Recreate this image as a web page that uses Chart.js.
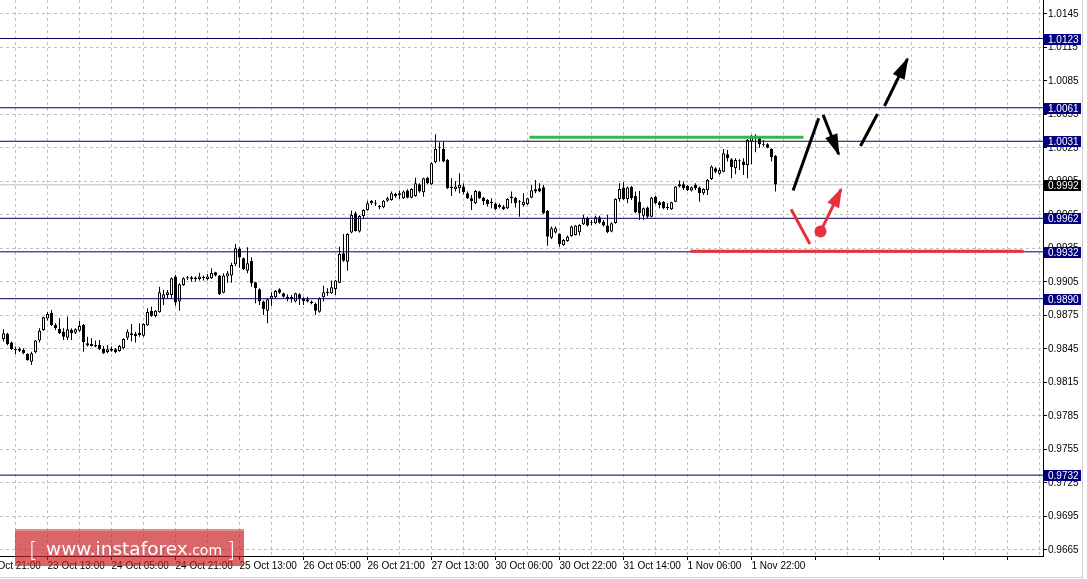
<!DOCTYPE html>
<html><head><meta charset="utf-8">
<script src="https://cdn.jsdelivr.net/npm/chart.js@4.4.0/dist/chart.umd.min.js"></script>
<style>html,body{margin:0;padding:0;background:#fff;overflow:hidden}canvas{display:block}</style>
</head><body>
<canvas id="c" width="1087" height="579"></canvas>
<script>
// ---- H1 candles, bar 0 = 23 Oct 02:00 ----
const open = [0.98536,0.98584,0.98507,0.98450,0.98453,0.98441,0.98405,0.98336,0.98420,0.98525,
0.98620,0.98722,0.98775,0.98665,0.98629,0.98605,0.98551,0.98620,0.98596,0.98614,
0.98665,0.98501,0.98495,0.98486,0.98486,0.98450,0.98423,0.98453,0.98447,0.98432,
0.98456,0.98551,0.98590,0.98566,0.98596,0.98569,0.98662,0.98790,0.98745,0.98778,
0.98901,0.98933,0.98933,0.99098,0.98874,0.99023,0.99092,0.99077,0.99089,0.99077,
0.99092,0.99077,0.99083,0.99136,0.99107,0.98954,0.99098,0.99107,0.99208,0.99345,
0.99262,0.99151,0.99238,0.99047,0.98984,0.98874,0.98793,0.98900,0.98912,0.98984,
0.98948,0.98918,0.98918,0.98874,0.98939,0.98903,0.98895,0.98874,0.98853,0.98784,
0.98912,0.98957,0.98948,0.98987,0.99044,0.99307,0.99232,0.99492,0.99665,0.99501,
0.99641,0.99695,0.99754,0.99757,0.99730,0.99718,0.99778,0.99784,0.99838,0.99844,
0.99799,0.99868,0.99805,0.99820,0.99925,0.99853,0.99984,0.99925,1.00122,1.00253,
1.00241,1.00143,0.99904,0.99880,0.99889,0.99904,0.99844,0.99799,0.99755,0.99859,
0.99805,0.99784,0.99769,0.99752,0.99719,0.99725,0.99710,0.99814,0.99805,0.99769,
0.99740,0.99749,0.99805,0.99880,0.99889,0.99898,0.99686,0.99447,0.99492,0.99480,
0.99381,0.99417,0.99462,0.99471,0.99495,0.99566,0.99626,0.99578,0.99575,0.99629,
0.99590,0.99555,0.99501,0.99578,0.99793,0.99895,0.99793,0.99901,0.99823,0.99769,
0.99644,0.99716,0.99635,0.99814,0.99763,0.99769,0.99719,0.99701,0.99769,0.99925,
0.99925,0.99910,0.99868,0.99919,0.99895,0.99844,0.99874,0.99972,1.00068,1.00020,
1.00038,1.00193,1.00149,1.00068,1.00137,1.00128,1.00098,1.00307,1.00351,1.00337,
1.00280,1.00283,1.00241,1.00178];
const high = [0.98626,0.98596,0.98516,0.98471,0.98465,0.98456,0.98411,0.98426,0.98530,0.98635,
0.98739,0.98784,0.98799,0.98680,0.98724,0.98635,0.98739,0.98635,0.98635,0.98701,
0.98674,0.98560,0.98545,0.98525,0.98530,0.98477,0.98483,0.98471,0.98456,0.98486,
0.98545,0.98626,0.98674,0.98605,0.98680,0.98680,0.98814,0.98829,0.98799,0.99008,
0.98978,0.98978,0.99089,0.99113,0.99038,0.99092,0.99104,0.99104,0.99098,0.99133,
0.99107,0.99121,0.99172,0.99142,0.99113,0.99127,0.99148,0.99223,0.99390,0.99360,
0.99268,0.99360,0.99271,0.99053,0.98993,0.98883,0.98903,0.98957,0.98978,0.98993,
0.98954,0.98939,0.98933,0.98954,0.98948,0.98912,0.98918,0.98883,0.98865,0.98912,
0.99017,0.98993,0.99062,0.99068,0.99366,0.99480,0.99486,0.99689,0.99680,0.99650,
0.99701,0.99778,0.99784,0.99784,0.99739,0.99784,0.99814,0.99859,0.99850,0.99868,
0.99868,0.99880,0.99889,0.99984,0.99934,0.99984,0.99993,1.00122,1.00372,1.00301,
1.00307,1.00152,0.99978,0.99955,1.00023,0.99934,0.99859,0.99829,0.99874,0.99865,
0.99814,0.99793,0.99799,0.99763,0.99752,0.99740,0.99799,0.99859,0.99814,0.99784,
0.99844,0.99805,0.99919,0.99963,0.99934,0.99919,0.99695,0.99546,0.99546,0.99486,
0.99435,0.99465,0.99555,0.99561,0.99566,0.99650,0.99635,0.99605,0.99644,0.99644,
0.99605,0.99650,0.99584,0.99799,0.99934,0.99943,0.99904,0.99910,0.99859,0.99865,
0.99716,0.99725,0.99814,0.99823,0.99775,0.99775,0.99755,0.99769,0.99910,0.99958,
0.99949,0.99919,0.99904,0.99934,0.99904,0.99889,0.99972,1.00092,1.00077,1.00074,
1.00241,1.00232,1.00158,1.00158,1.00149,1.00158,1.00331,1.00366,1.00372,1.00351,
1.00322,1.00292,1.00247,1.00187];
const low = [0.98516,0.98483,0.98441,0.98405,0.98423,0.98402,0.98345,0.98307,0.98411,0.98507,
0.98614,0.98704,0.98656,0.98620,0.98584,0.98530,0.98530,0.98530,0.98584,0.98605,
0.98426,0.98471,0.98471,0.98465,0.98441,0.98405,0.98411,0.98426,0.98411,0.98426,
0.98447,0.98530,0.98516,0.98507,0.98560,0.98560,0.98656,0.98739,0.98733,0.98775,
0.98844,0.98904,0.98904,0.98838,0.98793,0.99017,0.99068,0.99053,0.99053,0.99062,
0.99062,0.99062,0.99077,0.99098,0.98933,0.98948,0.99044,0.99044,0.99193,0.99178,
0.99157,0.99127,0.99008,0.98859,0.98844,0.98754,0.98680,0.98838,0.98903,0.98942,
0.98909,0.98874,0.98865,0.98865,0.98844,0.98844,0.98865,0.98850,0.98754,0.98775,
0.98874,0.98927,0.98942,0.98933,0.99038,0.99232,0.99151,0.99486,0.99501,0.99492,
0.99611,0.99689,0.99739,0.99730,0.99701,0.99710,0.99769,0.99778,0.99805,0.99793,
0.99793,0.99799,0.99799,0.99814,0.99850,0.99814,0.99925,0.99919,1.00113,1.00128,
1.00122,0.99883,0.99820,0.99859,0.99844,0.99835,0.99793,0.99695,0.99746,0.99793,
0.99740,0.99725,0.99710,0.99695,0.99710,0.99695,0.99704,0.99755,0.99716,0.99635,
0.99725,0.99740,0.99799,0.99844,0.99853,0.99656,0.99375,0.99435,0.99483,0.99366,
0.99375,0.99411,0.99456,0.99465,0.99465,0.99561,0.99546,0.99555,0.99566,0.99572,
0.99546,0.99486,0.99495,0.99572,0.99769,0.99784,0.99755,0.99784,0.99665,0.99605,
0.99605,0.99620,0.99629,0.99746,0.99710,0.99701,0.99695,0.99695,0.99763,0.99895,
0.99874,0.99865,0.99859,0.99874,0.99769,0.99829,0.99829,0.99963,1.00023,1.00008,
1.00032,1.00128,0.99978,1.00014,1.00053,1.00008,0.99978,1.00104,1.00211,1.00253,
1.00262,1.00247,1.00128,0.99859];
const close = [0.98590,0.98492,0.98450,0.98441,0.98435,0.98411,0.98351,0.98411,0.98525,0.98614,
0.98733,0.98763,0.98665,0.98635,0.98590,0.98560,0.98626,0.98590,0.98626,0.98656,
0.98510,0.98480,0.98477,0.98471,0.98450,0.98411,0.98447,0.98435,0.98420,0.98477,
0.98539,0.98605,0.98575,0.98584,0.98575,0.98674,0.98781,0.98745,0.98793,0.98957,
0.98939,0.98957,0.99083,0.98865,0.99029,0.99083,0.99083,0.99092,0.99074,0.99098,
0.99086,0.99098,0.99130,0.99107,0.98942,0.99107,0.99127,0.99202,0.99351,0.99268,
0.99163,0.99217,0.99038,0.98993,0.98874,0.98808,0.98895,0.98927,0.98969,0.98954,
0.98918,0.98895,0.98897,0.98948,0.98903,0.98880,0.98874,0.98859,0.98793,0.98903,
0.98957,0.98951,0.99002,0.99062,0.99301,0.99241,0.99480,0.99650,0.99507,0.99641,
0.99695,0.99754,0.99775,0.99751,0.99718,0.99778,0.99799,0.99844,0.99820,0.99829,
0.99859,0.99805,0.99883,0.99934,0.99859,0.99978,0.99934,1.00113,1.00241,1.00256,
1.00128,0.99889,0.99889,0.99904,0.99919,0.99853,0.99799,0.99775,0.99865,0.99799,
0.99775,0.99746,0.99755,0.99704,0.99740,0.99704,0.99793,0.99799,0.99755,0.99763,
0.99769,0.99799,0.99871,0.99859,0.99859,0.99665,0.99456,0.99531,0.99531,0.99390,
0.99426,0.99456,0.99546,0.99555,0.99561,0.99626,0.99555,0.99575,0.99629,0.99581,
0.99555,0.99495,0.99575,0.99793,0.99883,0.99793,0.99895,0.99799,0.99674,0.99665,
0.99710,0.99635,0.99805,0.99755,0.99740,0.99710,0.99713,0.99763,0.99904,0.99904,
0.99889,0.99874,0.99898,0.99889,0.99844,0.99883,0.99963,1.00083,1.00038,1.00053,
1.00202,1.00158,1.00077,1.00143,1.00131,1.00098,1.00322,1.00360,1.00337,1.00283,
1.00274,1.00253,1.00166,0.99922];

// ---- axes ----
const xTickLabels = ['22 Oct 21:00','23 Oct 13:00','24 Oct 05:00','24 Oct 21:00','25 Oct 13:00',
  '26 Oct 05:00','26 Oct 21:00','27 Oct 13:00','30 Oct 06:00','30 Oct 22:00','31 Oct 14:00',
  '1 Nov 06:00','1 Nov 22:00'];
const xLabelFirstBar = -5;   // bar index of the first time label
const xLabelStep = 16;       // bars between labels
const xGridStep = 8;         // bars between grid lines
const yTicks = [1.0145,1.0115,1.0085,1.0055,1.0025,0.9995,0.9965,0.9935,0.9905,0.9875,
  0.9845,0.9815,0.9785,0.9755,0.9725,0.9695,0.9665];

// ---- levels ----
const levelValues = [1.0123,1.0061,1.0031,0.9962,0.9932,0.9890,0.9732];
const bidPrice = 0.9992;

// ---- drawn forecast (bar index, price) ----
const greenLineX = [131.5, 200];     const greenLineY = [1.00346, 1.00346];
const redLineX = [171.75, 255];      const redLineY = [0.99325, 0.99325];
const blackUpX = [197.4, 203.8];     const blackUpY = [0.99868, 1.00516];
const blackDownX = [204.9, 208.8];   const blackDownY = [1.00546, 1.00194];
const blackDashX = [214.25, 218.5];  const blackDashY = [1.00268, 1.00554];
const blackUp2X = [220.25, 226];     const blackUp2Y = [1.00626, 1.01047];
const redDownX = [196.9, 201.6];     const redDownY = [0.99701, 0.99390];
const redUpX = [204.25, 209.4];      const redUpY = [0.99501, 0.99880];
const redDotX = [204.25];            const redDotY = [0.99501];

const X_MIN = -0.875, X_MAX = 259.875, Y_MIN = 0.96596, Y_MAX = 1.01575;
const FONT = '"Liberation Sans", Arial, sans-serif';

const pts = (xs, ys) => xs.map((x, i) => ({x, y: ys[i]}));
const isLabelBar = v => ((v - xLabelFirstBar) % xLabelStep) === 0;

const bodyData = open.map((o, i) => ({x: i, y: [o, close[i]]}));
const wickData = open.map((o, i) => ({x: i, y: [low[i], high[i]]}));
const bodyColors = open.map((o, i) => close[i] < o ? '#000000' : '#ffffff');

const lineDs = (data, color, width, order, extra) => Object.assign({
  type: 'line', data, borderColor: color, backgroundColor: color, borderWidth: width,
  pointRadius: 0, pointHoverRadius: 0, tension: 0, fill: false, order, borderCapStyle: 'butt'
}, extra || {});

const datasets = [
  {type: 'bar', data: bodyData, backgroundColor: bodyColors, borderColor: '#000', borderWidth: 1,
   borderSkipped: false, barThickness: 3, grouped: false, minBarLength: 1, inflateAmount: 0, order: 2},
  {type: 'bar', data: wickData, backgroundColor: '#000', borderWidth: 0, barThickness: 1,
   grouped: false, minBarLength: 1, inflateAmount: 0, order: 3},
  lineDs(pts([X_MIN - 1, X_MAX + 1], [bidPrice, bidPrice]), '#c0c0c0', 1, 4),
];
levelValues.forEach(v => datasets.push(lineDs(pts([X_MIN - 1, X_MAX + 1], [v, v]), '#00005a', 1, 1)));
datasets.push(lineDs(pts(greenLineX, greenLineY), 'rgba(40,178,72,0.95)', 3, 0));
datasets.push(lineDs(pts(redLineX, redLineY), '#e8303a', 3, 0));
datasets.push(lineDs(pts(blackUpX, blackUpY), '#000', 3, 0));
datasets.push(lineDs(pts(blackDownX, blackDownY), '#000', 3, 0, {arrowHead: {len: 20, w: 13}}));
datasets.push(lineDs(pts(blackDashX, blackDashY), '#000', 3, 0));
datasets.push(lineDs(pts(blackUp2X, blackUp2Y), '#000', 3, 0, {arrowHead: {len: 20, w: 13}}));
datasets.push(lineDs(pts(redDownX, redDownY), '#e8303a', 3, 0));
datasets.push(lineDs(pts(redUpX, redUpY), '#e8303a', 3, 0, {arrowHead: {len: 18, w: 13}}));
datasets.push({type: 'scatter', data: pts(redDotX, redDotY), pointRadius: 6, pointHoverRadius: 6,
  pointBackgroundColor: '#e8303a', pointBorderColor: '#e8303a', pointBorderWidth: 0, order: -1, showLine: false});

const arrowPlugin = {
  id: 'arrowHeads',
  afterDatasetsDraw(chart) {
    const ctx = chart.ctx;
    chart.data.datasets.forEach((ds, di) => {
      if (!ds.arrowHead) return;
      const m = chart.getDatasetMeta(di).data;
      const a = m[m.length - 2], b = m[m.length - 1];
      const ang = Math.atan2(b.y - a.y, b.x - a.x);
      const {len, w} = ds.arrowHead;
      const bx = b.x - len * Math.cos(ang), by = b.y - len * Math.sin(ang);
      const px = -Math.sin(ang) * w / 2, py = Math.cos(ang) * w / 2;
      ctx.save();
      ctx.fillStyle = ds.borderColor;
      ctx.beginPath();
      ctx.moveTo(b.x + 2 * Math.cos(ang), b.y + 2 * Math.sin(ang));
      ctx.lineTo(bx + px, by + py);
      ctx.lineTo(bx - px, by - py);
      ctx.closePath();
      ctx.fill();
      ctx.restore();
    });
  }
};

const decorPlugin = {
  id: 'decor',
  afterDraw(chart) {
    const ctx = chart.ctx, ys = chart.scales.y;
    ctx.save();
    // level price boxes
    ctx.font = '10px ' + FONT;
    ctx.textBaseline = 'middle';
    const boxes = levelValues.map(v => ({v, bg: '#000080'})).concat([{v: bidPrice, bg: '#000000'}]);
    boxes.forEach(bx => {
      const py = Math.round(ys.getPixelForValue(bx.v));
      ctx.fillStyle = bx.bg;
      ctx.fillRect(1044, py - 5, 37, 11);
      ctx.fillStyle = '#ffffff';
      ctx.fillText(bx.v.toFixed(4), 1048, py + 1);
    });
    // window frame lines
    ctx.fillStyle = '#cfcfcf';
    ctx.fillRect(1082, 0, 1, 579);
    ctx.fillRect(0, 577, 1082, 1);
    // watermark
    ctx.fillStyle = 'rgba(200,30,35,0.68)';
    ctx.fillRect(15, 529, 229, 37);
    ctx.fillStyle = 'rgba(255,255,255,0.25)';
    ctx.fillRect(15, 529, 229, 2);
    ctx.fillStyle = '#ffffff';
    ctx.textBaseline = 'alphabetic';
    ctx.font = '300 21px "DejaVu Sans", sans-serif';
    ctx.fillText('[', 29, 557);
    ctx.fillText(']', 227, 557);
    ctx.font = '18.5px "DejaVu Sans", sans-serif';
    ctx.fillText('www.instaforex', 46, 555);
    const w = ctx.measureText('www.instaforex').width;
    ctx.font = '14px "DejaVu Sans", sans-serif';
    ctx.fillText('.com', 46 + w, 555);
    ctx.restore();
  }
};

new Chart(document.getElementById('c'), {
  type: 'bar',
  data: {datasets},
  plugins: [arrowPlugin, decorPlugin],
  options: {
    responsive: false, animation: false, devicePixelRatio: 1, events: [],
    layout: {padding: 0, autoPadding: false},
    plugins: {legend: {display: false}, tooltip: {enabled: false}},
    scales: {
      x: {
        type: 'linear', position: 'bottom', min: X_MIN, max: X_MAX, offset: false,
        afterBuildTicks: s => {
          const t = [];
          for (let v = xLabelFirstBar; v <= X_MAX; v += xGridStep) t.push({value: v});
          s.ticks = t;
        },
        afterFit: s => { s.height = 23; s.paddingLeft = 0; s.paddingRight = 0; },
        ticks: {
          autoSkip: false, maxRotation: 0, minRotation: 0, align: 'start', padding: 0,
          color: '#000', font: {family: FONT, size: 10},
          callback: v => isLabelBar(v) ? xTickLabels[(v - xLabelFirstBar) / xLabelStep] || '' : ''
        },
        grid: {
          color: '#c0c0c0', lineWidth: 1, offset: false, drawTicks: true, tickLength: 4,
          tickWidth: 1, tickBorderDash: [],
          tickColor: c => (c.tick && isLabelBar(c.tick.value)) ? '#000' : 'rgba(0,0,0,0)'
        },
        border: {display: true, color: '#000', width: 1, dash: [3, 3]}
      },
      y: {
        type: 'linear', position: 'right', min: Y_MIN, max: Y_MAX,
        afterBuildTicks: s => { s.ticks = yTicks.map(v => ({value: v})); },
        afterFit: s => { s.width = 44; s.paddingTop = 0; s.paddingBottom = 0; },
        ticks: {
          autoSkip: false, padding: 1, color: '#000', font: {family: FONT, size: 10},
          callback: v => Number(v).toFixed(4)
        },
        grid: {color: '#c0c0c0', lineWidth: 1, drawTicks: true, tickLength: 4, tickColor: '#000', tickBorderDash: []},
        border: {display: true, color: '#000', width: 1, dash: [3, 3]}
      }
    }
  }
});
</script>
</body></html>
